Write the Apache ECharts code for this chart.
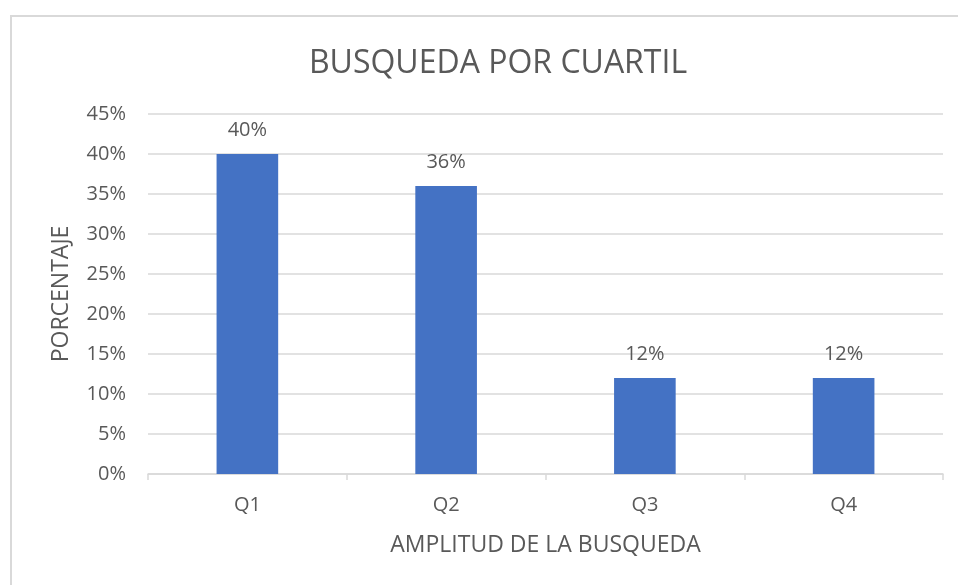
<!DOCTYPE html>
<html>
<head>
<meta charset="utf-8">
<script src="https://cdn.jsdelivr.net/npm/echarts@6/dist/echarts.min.js"></script>
<style>
  body { margin: 0; background: #fff; }
  #frame { position: absolute; left: 10px; top: 15px; width: 960px; height: 600px; border: 2px solid #d9d9d9; box-sizing: border-box; }
  #main { position: absolute; left: 0; top: 0; width: 958px; height: 585px; }
</style>
</head>
<body>
<div id="frame"></div>
<div id="main"></div>
<script>
const categories = ['Q1', 'Q2', 'Q3', 'Q4']
const percentages = [40, 36, 12, 12]
const yTicks = [0, 5, 10, 15, 20, 25, 30, 35, 40, 45]

const textColor = '#595959'
const fontFamily = '"Open Sans", "Noto Sans", sans-serif'

let chart = echarts.init(document.getElementById('main'))
chart.setOption({
  animation: false,
  textStyle: { fontFamily: fontFamily },
  title: {
    text: 'BUSQUEDA POR CUARTIL',
    left: 493,
    top: 43,
    textAlign: 'center',
    textStyle: { fontSize: 32, fontWeight: 'normal', color: textColor, fontFamily: fontFamily }
  },
  grid: { left: 148, right: 15, top: 114, bottom: 111 },
  xAxis: {
    type: 'category',
    data: categories,
    name: 'AMPLITUD DE LA BUSQUEDA',
    nameLocation: 'middle',
    nameGap: 60,
    nameTextStyle: { fontSize: 23, color: textColor },
    axisLine: { lineStyle: { color: '#d9d9d9', width: 1.5 } },
    axisTick: { show: true, length: 6, lineStyle: { color: '#d9d9d9', width: 1.5 } },
    axisLabel: { fontSize: 20, color: textColor, margin: 21 }
  },
  yAxis: {
    type: 'value',
    min: yTicks[0],
    max: yTicks[yTicks.length - 1],
    interval: 5,
    name: 'PORCENTAJE',
    nameLocation: 'middle',
    nameGap: 75,
    nameTextStyle: { fontSize: 23, color: textColor },
    axisLine: { show: false },
    axisTick: { show: false },
    axisLabel: { fontSize: 20, color: textColor, margin: 22, formatter: '{value}%' },
    splitLine: { lineStyle: { color: '#d9d9d9', width: 1.5 } }
  },
  series: [
    {
      type: 'bar',
      data: percentages,
      barWidth: '31%',
      itemStyle: { color: '#4472c4' },
      label: {
        show: true,
        position: 'top',
        distance: 14,
        fontSize: 20,
        color: textColor,
        formatter: '{c}%'
      }
    }
  ]
})
</script>
</body>
</html>
